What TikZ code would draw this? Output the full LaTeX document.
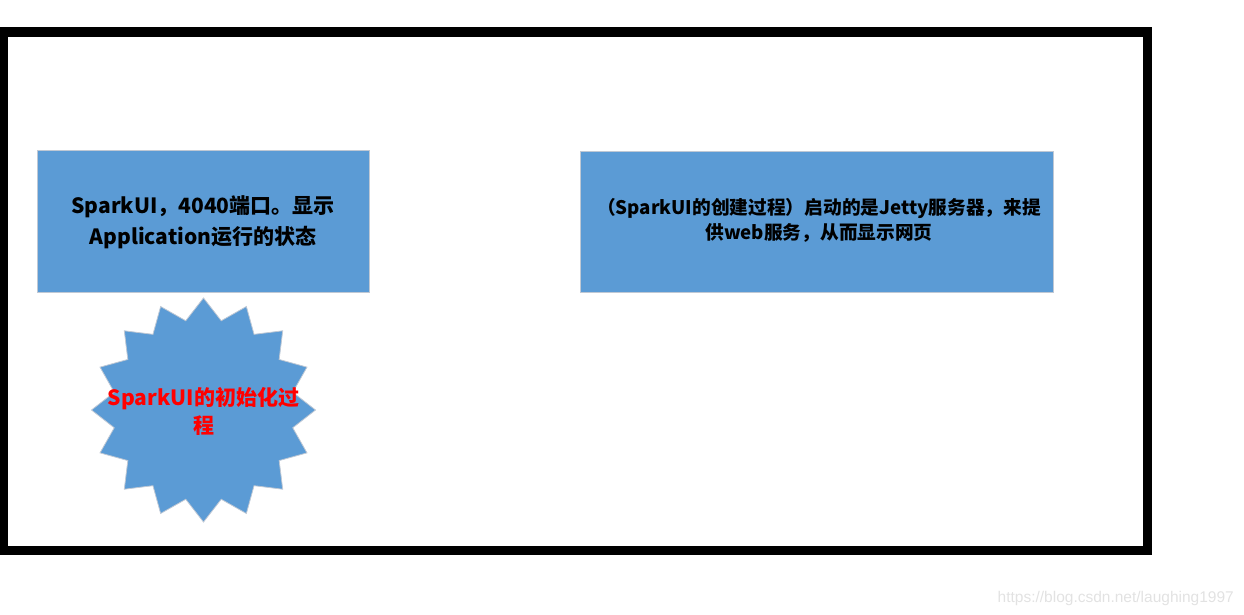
\documentclass[tikz,border=0pt]{standalone}
\usepackage{fontspec}
\newfontfamily\cjk{Noto Sans CJK SC}
\setmainfont{Liberation Sans}
\definecolor{boxblue}{HTML}{5B9BD5}
\definecolor{edgegray}{HTML}{BFC8D4}
\definecolor{wmgray}{HTML}{E2E2E2}
\tikzset{
  bluebox/.style={fill=boxblue, draw=edgegray, line width=0.8pt},
  boxtext/.style={align=center, inner sep=0pt, font=\cjk\bfseries, text=black},
}
\begin{document}
\begin{tikzpicture}[x=1pt,y=-1pt]
\useasboundingbox (0,0) rectangle (1244,614);
% outer frame
\draw[line width=9.5pt] (3.5,32) rectangle (1147.5,550.5);
% box 1
\draw[bluebox] (37,150) rectangle (369,292);
\node[boxtext, font=\fontsize{21}{31}\cjk\bfseries] (b1) at (203,222.5) {SparkUI，4040端口。显示\\Application运行的状态};
% box 2
\draw[bluebox] (580.5,151) rectangle (1053,292);
\node[boxtext, font=\fontsize{18.7}{25}\cjk\bfseries] (b2) at (819,220.5) {（SparkUI的创建过程）启动的是Jetty服务器，来提\\供web服务，从而显示网页};
% star
\fill[boxblue, draw=edgegray, line width=0.8pt, shift={(203.5,410)}] (90:112)
  \foreach \i in {1,...,31} { -- ({90+\i*11.25}:{mod(\i,2)==0 ? 112 : 91}) } -- cycle;
\node[boxtext, text=red, font=\fontsize{21}{28}\cjk\bfseries] (s) at (203.5,411) {SparkUI的初始化过\\程};
% watermark
\node[anchor=base east, inner sep=0pt, text=wmgray, font=\fontsize{15.5}{18}\selectfont] (wm) at (1234,602) {https://blog.csdn.net/laughing1997};
\end{tikzpicture}
\end{document}
